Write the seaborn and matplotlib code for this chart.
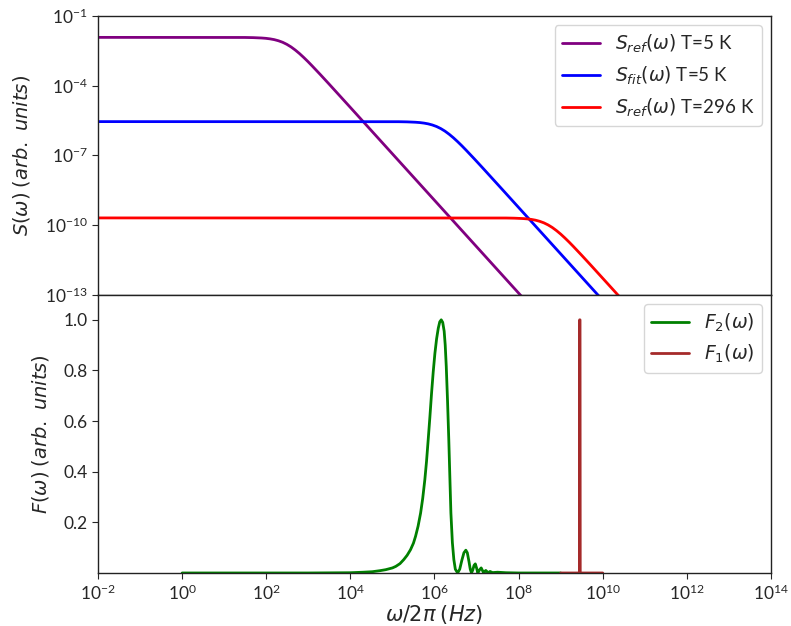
import numpy as np
import pandas as pd
import matplotlib
matplotlib.use("Agg")
import matplotlib.pyplot as plt
import seaborn as sns

# ---------------- data ----------------
# top panel: log10 frequency and log10 S for each spectrum
purple_logf = [-2.0, 1.49, 1.69, 1.89, 1.99, 2.09, 2.19, 2.29, 2.39, 2.49, 2.59, 2.69,
               2.79, 2.89, 2.99, 3.09, 3.29, 3.49, 3.99, 9.0]
purple_logS = [-1.92, -1.924, -1.931, -1.947, -1.961, -1.984, -2.017, -2.066, -2.132, -2.221,
               -2.332, -2.466, -2.617, -2.784, -2.961, -3.147, -3.531, -3.924, -4.920, -14.94]

blue_logf = [-2.0, 5.15, 5.35, 5.55, 5.65, 5.75, 5.85, 5.95, 6.05, 6.15, 6.25, 6.35,
             6.45, 6.55, 6.65, 6.75, 6.95, 7.15, 7.65, 11.0]
blue_logS = [-5.55, -5.554, -5.561, -5.577, -5.591, -5.614, -5.647, -5.696, -5.762, -5.851,
             -5.962, -6.096, -6.247, -6.414, -6.591, -6.777, -7.161, -7.554, -8.550, -15.25]

red_logf = [-2.0, 7.7, 7.9, 8.1, 8.2, 8.3, 8.4, 8.5, 8.6, 8.7, 8.8, 8.9,
            9.0, 9.1, 9.2, 9.3, 9.5, 9.7, 10.2, 12.0]
red_logS = [-9.70, -9.704, -9.711, -9.727, -9.741, -9.764, -9.797, -9.846, -9.912, -10.001,
            -10.112, -10.246, -10.397, -10.564, -10.741, -10.927, -11.311, -11.704, -12.700, -16.30]

# bottom panel: filter functions
green_logf = [0.0, 3.0, 4.0, 4.3, 4.52, 4.7, 4.84, 5.0, 5.08, 5.18, 5.27, 5.35, 5.43, 5.5,
              5.55, 5.61, 5.67, 5.72, 5.77, 5.81, 5.85, 5.89, 5.93, 5.97, 6.01, 6.05, 6.09,
              6.125, 6.16, 6.195, 6.23, 6.255, 6.28, 6.31, 6.34, 6.365, 6.39, 6.425, 6.46,
              6.495, 6.55,
              6.60, 6.65, 6.70, 6.745, 6.78, 6.82, 6.85, 6.88,
              6.91, 6.94, 6.97, 7.00, 7.03,
              7.07, 7.11, 7.14, 7.17,
              7.20, 7.22, 7.25, 7.27,
              7.32, 7.38, 7.5, 7.7, 8.0, 9.0]
green_F = [0.0, 0.0, 0.001, 0.003, 0.005, 0.009, 0.013, 0.02, 0.026, 0.037, 0.053, 0.07, 0.092, 0.118,
           0.145, 0.185, 0.237, 0.295, 0.368, 0.44, 0.526, 0.615, 0.71, 0.795, 0.868, 0.925, 0.967,
           0.992, 1.0, 0.99, 0.955, 0.9, 0.815, 0.68, 0.526, 0.38, 0.237, 0.12, 0.053,
           0.015, 0.0,
           0.015, 0.05, 0.08, 0.09, 0.08, 0.045, 0.015, 0.0,
           0.012, 0.03, 0.036, 0.02, 0.0,
           0.012, 0.02, 0.01, 0.0,
           0.007, 0.01, 0.005, 0.0,
           0.006, 0.0015, 0.003, 0.001, 0.0, 0.0]

brown_logf = [9.0, 9.445, 9.45, 9.46, 9.465, 10.0]
brown_F = [0.0, 0.0, 1.0, 1.0, 0.0, 0.0]

top_labels = [r'$S_{ref}(\omega)$ T=5 K', r'$S_{fit}(\omega)$ T=5 K', r'$S_{ref}(\omega)$ T=296 K']
top_colors = ['purple', 'blue', 'red']
bottom_labels = [r'$F_2(\omega)$', r'$F_1(\omega)$']
bottom_colors = ['green', 'brown']

xticks_exp = [-2, 0, 2, 4, 6, 8, 10, 12, 14]
top_yticks_exp = [-1, -4, -7, -10, -13]
bottom_yticks = [0.2, 0.4, 0.6, 0.8, 1.0]

# ---------------- plotting ----------------
sns.set_style("white")
plt.rcParams['font.family'] = ['Lato', 'DejaVu Sans']
plt.rcParams['mathtext.fontset'] = 'dejavusans'
plt.rcParams['axes.edgecolor'] = '#222222'
plt.rcParams['xtick.bottom'] = True
plt.rcParams['ytick.left'] = True

fig = plt.figure(figsize=(7.91, 6.26), dpi=100)
gs = fig.add_gridspec(2, 1, left=0.1239, right=0.9747, top=0.9744, bottom=0.0847, hspace=0.0)
ax1 = fig.add_subplot(gs[0])
ax2 = fig.add_subplot(gs[1], sharex=ax1)

series_top = [(purple_logf, purple_logS), (blue_logf, blue_logS), (red_logf, red_logS)]
for (lf, ls), lab, col in zip(series_top, top_labels, top_colors):
    df = pd.DataFrame({'f': np.power(10.0, lf), 'S': np.power(10.0, ls)})
    sns.lineplot(data=df, x='f', y='S', ax=ax1, color=col, lw=2, label=lab)

series_bot = [(green_logf, green_F), (brown_logf, brown_F)]
for (lf, fv), lab, col in zip(series_bot, bottom_labels, bottom_colors):
    df = pd.DataFrame({'f': np.power(10.0, lf), 'F': fv})
    sns.lineplot(data=df, x='f', y='F', ax=ax2, color=col, lw=2, label=lab)

ax1.set_xscale('log')
ax1.set_yscale('log')
ax1.set_xlim(1e-2, 1e14)
ax1.set_ylim(1e-13, 1e-1)
ax1.set_yticks([10.0 ** e for e in top_yticks_exp])
ax1.yaxis.set_minor_locator(matplotlib.ticker.NullLocator())
ax1.xaxis.set_minor_locator(matplotlib.ticker.NullLocator())
ax1.tick_params(axis='x', which='both', bottom=False, labelbottom=False)
ax1.tick_params(axis='y', labelsize=12.5, direction='out', length=4)
ax1.set_xlabel('')
ax1.set_ylabel(r'$S(\omega)$ $(arb.\ units)$', fontsize=14, labelpad=9)
ax1.legend(loc='upper right', fontsize=13.5)

ax2.set_ylim(0, 1.1)
ax2.set_yticks(bottom_yticks)
ax2.set_yticklabels([f'{v:.1f}' for v in bottom_yticks])
ax2.set_xticks([10.0 ** e for e in xticks_exp])
ax2.xaxis.set_minor_locator(matplotlib.ticker.NullLocator())
ax2.tick_params(axis='both', labelsize=12.5, direction='out', length=4)
ax2.set_xlabel(r'$\omega/2\pi$ $(Hz)$', fontsize=15, labelpad=0)
ax2.set_ylabel(r'$F(\omega)$ $(arb.\ units)$', fontsize=14, labelpad=9)
ax2.legend(loc='upper right', fontsize=13.5)

for ax in (ax1, ax2):
    for sp in ax.spines.values():
        sp.set_visible(True)
        sp.set_linewidth(1.0)

fig.savefig('out.png', dpi=100)
